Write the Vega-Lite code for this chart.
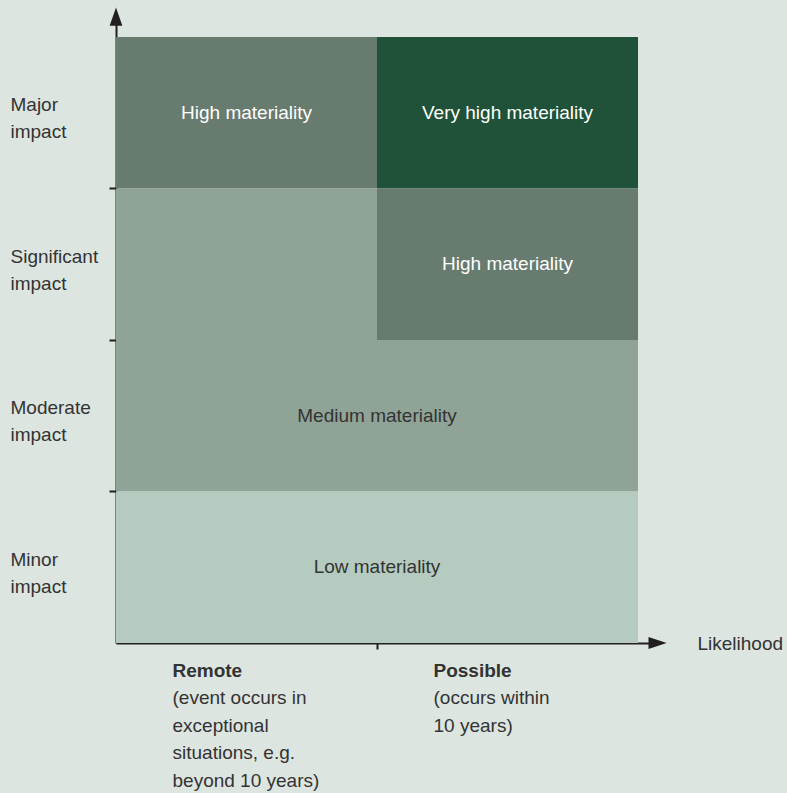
{
  "$schema": "https://vega.github.io/schema/vega-lite/v6.json",
  "width": 542,
  "height": 627,
  "autosize": {"type": "none"},
  "padding": {"left": 116, "top": 16, "right": 129, "bottom": 150},
  "background": "#dde5e0",
  "config": {"view": {"stroke": null}, "font": "Liberation Sans"},
  "datasets": {
    "cells": [
      {"cat": "High", "x": 0, "x2": 1, "y": 3, "y2": 4},
      {"cat": "Very high", "x": 1, "x2": 2, "y": 3, "y2": 4},
      {"cat": "High", "x": 1, "x2": 2, "y": 2, "y2": 3},
      {"cat": "Medium", "x": 0, "x2": 1, "y": 1, "y2": 3},
      {"cat": "Medium", "x": 1, "x2": 2, "y": 1, "y2": 2},
      {"cat": "Low", "x": 0, "x2": 2, "y": 0, "y2": 1}
    ],
    "labels": [
      {"cat": "High", "x": 0.5, "y": 3.5, "label": "High materiality"},
      {"cat": "Very high", "x": 1.5, "y": 3.5, "label": "Very high materiality"},
      {"cat": "High", "x": 1.5, "y": 2.5, "label": "High materiality"},
      {"cat": "Medium", "x": 1, "y": 1.5, "label": "Medium materiality"},
      {"cat": "Low", "x": 1, "y": 0.5, "label": "Low materiality"}
    ],
    "arrows": [
      {"dir": "right", "x": 2.075, "y": 0},
      {"dir": "up", "x": 0, "y": 4.135}
    ],
    "likelihood": [
      {"x": 0.5, "name": "Remote", "desc": "(event occurs in\nexceptional\nsituations, e.g.\nbeyond 10 years)"},
      {"x": 1.5, "name": "Possible", "desc": "(occurs within\n10 years)"}
    ]
  },
  "layer": [
    {
      "data": {"name": "cells"},
      "mark": {"type": "rect"},
      "encoding": {
        "x": {
          "field": "x", "type": "quantitative",
          "scale": {"domain": [0, 2.0766], "nice": false, "zero": false},
          "axis": {
            "values": [1], "labels": false, "grid": false,
            "domainColor": "#231f20", "domainWidth": 2,
            "tickColor": "#231f20", "tickWidth": 2, "tickSize": 6,
            "title": "Likelihood", "titleX": 581, "titleY": 0,
            "titleAlign": "left", "titleBaseline": "middle", "titleAnchor": null,
            "titleFontWeight": "normal", "titleFontSize": 19, "titleColor": "#333333"
          }
        },
        "x2": {"field": "x2"},
        "y": {
          "field": "y", "type": "quantitative",
          "scale": {"domain": [0, 4.1386], "nice": false, "zero": false},
          "axis": {
            "values": [0.5, 1, 1.5, 2, 2.5, 3, 3.5], "grid": false, "title": null,
            "domainColor": "#231f20", "domainWidth": 2,
            "tickColor": "#231f20", "tickWidth": 2, "tickSize": 7,
            "tickOpacity": {"condition": {"test": "datum.value % 1 === 0", "value": 1}, "value": 0},
            "labelExpr": "datum.value === 3.5 ? ['Major','impact'] : datum.value === 2.5 ? ['Significant','impact'] : datum.value === 1.5 ? ['Moderate','impact'] : datum.value === 0.5 ? ['Minor','impact'] : ''",
            "labelAlign": "left", "labelBaseline": "middle", "labelPadding": 99,
            "labelFontSize": 19, "labelColor": "#333333", "labelLineHeight": 27,
            "labelOffset": -8, "labelOverlap": false, "labelBound": false, "labelFlush": false
          }
        },
        "y2": {"field": "y2"},
        "color": {
          "field": "cat", "type": "nominal",
          "scale": {"domain": ["High", "Very high", "Medium", "Low"], "range": ["#687b6f", "#1f5238", "#8fa396", "#b5cbbf"]},
          "legend": null
        }
      }
    },
    {
      "data": {"name": "labels"},
      "mark": {"type": "text", "fontSize": 19, "baseline": "middle", "align": "center"},
      "encoding": {
        "x": {"field": "x", "type": "quantitative"},
        "y": {"field": "y", "type": "quantitative"},
        "text": {"field": "label"},
        "color": {"condition": {"test": "datum.cat === 'High' || datum.cat === 'Very high'", "value": "#ffffff"}, "value": "#333333"}
      }
    },
    {
      "data": {"name": "arrows"},
      "mark": {"type": "point", "filled": true, "opacity": 1, "size": 330, "color": "#231f20"},
      "encoding": {
        "x": {"field": "x", "type": "quantitative"},
        "y": {"field": "y", "type": "quantitative"},
        "shape": {
          "field": "dir", "type": "nominal",
          "scale": {"domain": ["right", "up"], "range": ["M-1,-0.65L1,0L-1,0.65Z", "M-0.7,1L0,-1L0.7,1Z"]},
          "legend": null
        }
      }
    },
    {
      "data": {"name": "likelihood"},
      "mark": {"type": "text", "fontSize": 19, "fontWeight": "bold", "align": "left", "baseline": "middle", "dx": -74, "dy": 28, "color": "#333333"},
      "encoding": {
        "x": {"field": "x", "type": "quantitative"},
        "y": {"datum": 0, "type": "quantitative"},
        "text": {"field": "name"}
      }
    },
    {
      "data": {"name": "likelihood"},
      "mark": {"type": "text", "fontSize": 19, "align": "left", "baseline": "top", "lineBreak": "\n", "lineHeight": 27.5, "dx": -74, "dy": 46, "color": "#333333"},
      "encoding": {
        "x": {"field": "x", "type": "quantitative"},
        "y": {"datum": 0, "type": "quantitative"},
        "text": {"field": "desc"}
      }
    }
  ]
}
